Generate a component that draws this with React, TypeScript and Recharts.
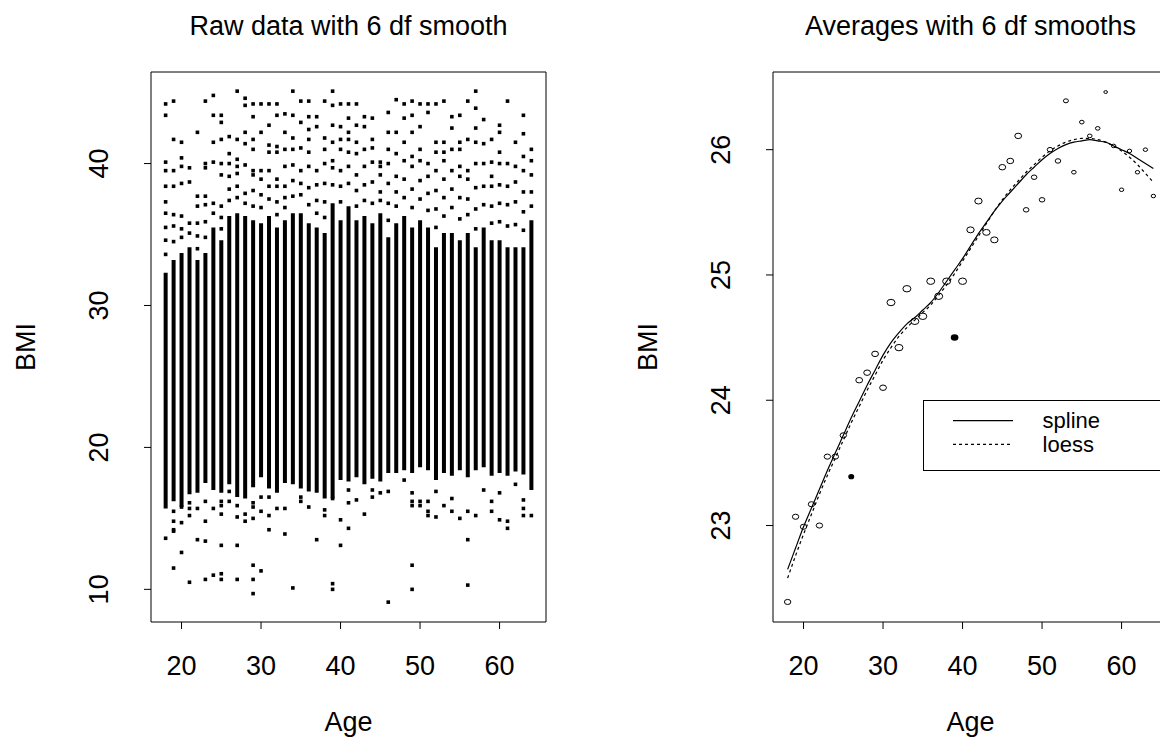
import React from "react";
import {
  ComposedChart,
  Bar,
  Scatter,
  Line,
  XAxis,
  YAxis,
  ReferenceArea,
  Legend,
} from "recharts";

const FONT = "'Liberation Sans', Arial, Helvetica, sans-serif";

const AGES = [
  18, 19, 20, 21, 22, 23, 24, 25, 26, 27, 28, 29, 30, 31, 32, 33, 34, 35, 36, 37, 38, 39, 40, 41,
  42, 43, 44, 45, 46, 47, 48, 49, 50, 51, 52, 53, 54, 55, 56, 57, 58, 59, 60, 61, 62, 63, 64,
];
const AGE_TICKS = [20, 30, 40, 50, 60];
const RAW_TICKS = [10, 20, 30, 40];
const AVG_TICKS = [23, 24, 25, 26];

const AGE_DOMAIN: [number, number] = [16.16, 65.84];
const RAW_DOMAIN: [number, number] = [7.7, 46.45];
const AVG_DOMAIN: [number, number] = [22.23, 26.62];

// raw panel: solid part of each age column, plus the scattered points above / below it
const DENSE_LO = [
  15.7, 16.2, 15.8, 16.7, 16.8, 17.5, 17.0, 16.8, 17.4, 16.5, 16.4, 17.2, 17.9, 17.1, 16.8, 17.5,
  17.4, 17.1, 16.9, 16.8, 16.4, 16.4, 17.7, 17.6, 17.9, 17.4, 17.8, 17.6, 18.2, 18.2, 18.4, 18.2,
  18.6, 18.4, 17.7, 18.2, 18.0, 18.4, 17.9, 18.4, 18.6, 18.0, 18.2, 18.0, 18.3, 18.1, 17.0,
];
const DENSE_HI = [
  32.3, 33.2, 33.7, 34.1, 33.2, 33.7, 35.5, 34.6, 36.3, 36.5, 36.3, 36.0, 35.8, 36.3, 35.5, 36.0,
  36.5, 36.5, 35.8, 35.5, 35.1, 37.2, 36.0, 37.0, 36.0, 36.3, 35.8, 36.5, 34.8, 35.8, 36.3, 35.5,
  36.0, 35.5, 34.1, 35.1, 35.1, 34.6, 35.1, 34.1, 35.5, 34.6, 34.6, 34.1, 34.1, 34.1, 36.0,
];
const UPPER_SPARSE = [
  [44.2, 43.4, 40.1, 39.5, 38.4, 37.3, 36.5, 35.5, 34.6, 33.6],
  [44.4, 41.7, 39.5, 38.4, 36.4, 35.6, 34.5],
  [41.5, 40.4, 39.8, 38.6, 36.3, 35.4, 34.8],
  [39.7, 38.7, 35.8, 35.1],
  [42.2, 37.7, 37.0, 35.8, 34.9, 34.0],
  [44.4, 40.0, 39.7, 37.7, 37.1, 35.9, 34.8],
  [44.8, 43.4, 41.5, 40.1, 37.2, 36.5],
  [43.4, 42.9, 41.7, 40.0, 39.2, 37.0, 36.2, 35.4],
  [41.9, 40.7, 40.0, 39.1, 38.2, 37.4],
  [45.1, 41.7, 40.3, 39.8, 39.3, 38.4, 37.6],
  [44.6, 44.1, 42.2, 41.4, 39.9, 37.9, 37.2],
  [44.2, 43.3, 41.7, 41.0, 39.5, 39.2, 38.1, 37.0],
  [44.2, 42.2, 39.5, 38.9, 37.8, 36.9],
  [44.2, 42.7, 41.3, 40.8, 39.5, 38.4, 37.5],
  [44.2, 43.4, 41.2, 40.8, 38.9, 38.4, 37.3, 36.4],
  [43.5, 42.2, 41.0, 39.8, 38.4, 37.6, 36.9],
  [45.1, 43.4, 41.8, 41.0, 39.9, 38.8, 37.7],
  [44.4, 42.9, 41.1, 39.5, 38.6, 37.8],
  [44.4, 43.3, 42.4, 41.7, 40.8, 39.8, 38.3, 37.1],
  [43.3, 42.6, 39.5, 38.5, 37.4, 36.5],
  [44.4, 41.8, 41.0, 40.0, 38.6, 37.3, 36.2],
  [45.1, 44.1, 42.7, 41.5, 40.2, 39.7, 38.5],
  [44.2, 42.6, 41.7, 41.0, 39.5, 38.4, 37.3],
  [44.2, 43.2, 42.2, 41.7, 40.8, 39.8, 38.6],
  [44.2, 42.7, 41.5, 40.7, 39.2, 38.1, 37.0],
  [43.3, 42.6, 41.0, 39.8, 38.5, 37.4],
  [43.2, 41.7, 41.1, 40.1, 38.7, 37.2],
  [40.1, 39.8, 39.2, 38.0, 37.4],
  [43.6, 42.2, 41.0, 40.0, 38.6, 37.2, 36.0],
  [44.5, 42.2, 40.7, 39.1, 38.0, 37.0],
  [44.2, 43.2, 41.5, 40.2, 38.9, 37.6],
  [44.4, 43.4, 42.2, 40.5, 39.8, 38.2, 36.9],
  [44.2, 42.6, 41.0, 40.2, 38.8, 37.5],
  [44.2, 43.6, 40.0, 39.1, 37.9, 36.7],
  [44.2, 41.5, 40.8, 39.5, 38.1, 36.8, 35.5],
  [44.4, 41.5, 40.8, 40.2, 38.9, 37.6, 36.3],
  [43.3, 42.5, 41.0, 39.5, 38.2, 36.9],
  [43.4, 41.5, 41.0, 39.8, 39.1, 37.6, 36.1],
  [44.4, 41.7, 39.5, 38.9, 37.5, 36.4],
  [45.1, 43.9, 42.5, 41.5, 40.0, 38.3, 36.8, 35.4],
  [43.1, 41.4, 40.0, 38.4, 37.1],
  [41.7, 40.1, 39.1, 38.4, 37.0, 35.8],
  [42.7, 42.2, 40.8, 40.0, 38.5, 37.2, 35.9],
  [44.4, 40.0, 38.4, 37.1, 35.6],
  [41.5, 39.8, 38.7, 37.3, 35.7],
  [43.4, 42.1, 40.5, 39.5, 38.0, 36.6, 35.3],
  [41.0, 40.2, 39.2, 38.0, 37.0],
];
const LOWER_SPARSE = [
  [13.6],
  [15.5, 14.8, 14.2, 14.1, 11.5],
  [15.8, 14.7, 12.6],
  [16.1, 15.7, 15.2, 10.5],
  [15.7, 13.5],
  [16.2, 14.8, 13.4, 10.7],
  [15.7, 11.0],
  [16.2, 15.9, 15.3, 13.1, 11.1, 10.7],
  [16.9, 16.2],
  [15.9, 15.1, 13.1, 10.7],
  [15.3, 14.8],
  [16.1, 15.8, 15.0, 11.7, 10.7, 9.7],
  [16.5, 15.5, 11.3],
  [16.5, 15.2, 14.2],
  [15.7],
  [15.7, 13.9],
  [10.1],
  [16.5, 16.2],
  [15.8],
  [13.5],
  [15.6, 15.2],
  [16.4, 10.4, 10.0],
  [14.9, 13.1],
  [17.0, 16.1, 14.3],
  [16.3],
  [15.3],
  [17.0, 16.5],
  [16.8],
  [16.9, 9.1],
  [],
  [17.7],
  [16.8, 16.2, 15.9, 11.7, 10.0],
  [16.2, 15.9],
  [16.2, 15.5, 15.2],
  [16.9, 15.1],
  [15.9],
  [16.4, 15.5],
  [15.0],
  [15.5, 13.5, 10.3],
  [15.2],
  [17.0],
  [16.2, 15.5],
  [16.8, 14.9],
  [14.8, 14.3],
  [17.4],
  [16.3, 15.7, 15.2],
  [15.2],
];

// averages panel
const AVG_BMI: (number | null)[] = [
  22.39, 23.07, 22.99, 23.17, 23.0, 23.55, 23.55, 23.72, null, 24.16, 24.22, 24.37, 24.1, 24.78,
  24.42, 24.89, 24.63, 24.67, 24.95, 24.83, 24.95, null, 24.95, 25.36, 25.59, 25.34, 25.28, 25.86,
  25.91, 26.11, 25.52, 25.78, 25.6, 26.0, 25.91, 26.39, 25.82, 26.22, 26.11, 26.17, 26.46, 26.03,
  25.68, 25.99, 25.82, 26.0, 25.63,
];
const AVG_SIZE = [
  3.2, 3.2, 3.2, 3.2, 3.2, 3.2, 3.2, 3.2, 3.2, 3.4, 3.4, 3.4, 3.4, 4.0, 4.0, 4.0, 4.0, 4.0, 4.0,
  4.0, 4.0, 4.0, 4.0, 3.7, 3.7, 3.7, 3.7, 3.4, 3.4, 3.4, 2.8, 2.8, 2.8, 2.8, 2.8, 2.5, 2.3, 2.3,
  2.3, 2.3, 1.8, 2.2, 2.2, 2.2, 2.2, 2.2, 2.2,
];
const FILLED_AGES = [26, 39];
const FILLED_BMI = [23.39, 24.5];
const FILLED_SIZE = [3.0, 3.8];

const SPLINE = [
  22.65, 22.82, 22.99, 23.14, 23.29, 23.44, 23.58, 23.72, 23.86, 23.99, 24.12, 24.24, 24.36,
  24.46, 24.54, 24.61, 24.66, 24.72, 24.78, 24.86, 24.95, 25.04, 25.13, 25.23, 25.33, 25.42,
  25.51, 25.59, 25.66, 25.73, 25.8, 25.86, 25.92, 25.97, 26.01, 26.04, 26.06, 26.07, 26.08,
  26.07, 26.06, 26.03, 26.0, 25.97, 25.93, 25.89, 25.85,
];
const LOESS = [
  22.58, 22.76, 22.93, 23.09, 23.25, 23.4, 23.54, 23.68, 23.82, 23.95, 24.08, 24.2, 24.32, 24.42,
  24.51, 24.58, 24.64, 24.7, 24.76, 24.84, 24.92, 25.01, 25.11, 25.21, 25.31, 25.41, 25.51, 25.6,
  25.68, 25.75, 25.82, 25.88, 25.94, 25.99, 26.03, 26.06, 26.08, 26.09, 26.09, 26.08, 26.06,
  26.03, 25.99, 25.94, 25.88, 25.81, 25.74,
];

const rawBands = AGES.map((age, i) => ({ age, band: [DENSE_LO[i], DENSE_HI[i]] }));
const rawSparse = AGES.flatMap((age, i) =>
  [...UPPER_SPARSE[i], ...LOWER_SPARSE[i]].map((bmi) => ({ age, bmi }))
);
const curveData = AGES.map((age, i) => ({ age, spline: SPLINE[i], loess: LOESS[i] }));
const hollowData = AGES.map((age, i) => ({ age, avg: AVG_BMI[i], r: AVG_SIZE[i] })).filter(
  (d) => d.avg !== null
);
const filledData = FILLED_AGES.map((age, i) => ({ age, avg: FILLED_BMI[i], r: FILLED_SIZE[i] }));

const textProps = { fontFamily: FONT, fill: "#000" };

function AgeTick(props: any) {
  const { x, y, payload } = props;
  return (
    <text x={x} y={y + 46} textAnchor="middle" fontSize={27} {...textProps}>
      {payload.value}
    </text>
  );
}

function BmiTick(props: any) {
  const { x, y, payload } = props;
  const px = x - 36;
  return (
    <text x={px} y={y} transform={`rotate(-90 ${px} ${y})`} textAnchor="middle" fontSize={27} {...textProps}>
      {payload.value}
    </text>
  );
}

function ageLabel(props: any) {
  const vb = props.viewBox;
  return (
    <text x={vb.x + vb.width / 2} y={vb.y + 109} textAnchor="middle" fontSize={27} {...textProps}>
      Age
    </text>
  );
}

function bmiLabel(props: any) {
  const vb = props.viewBox;
  const px = vb.x + vb.width - 116;
  const py = vb.y + vb.height / 2;
  return (
    <text x={px} y={py} transform={`rotate(-90 ${px} ${py})`} textAnchor="middle" fontSize={27} {...textProps}>
      BMI
    </text>
  );
}

function Square(props: any) {
  const { cx, cy } = props;
  return <rect x={cx - 1.8} y={cy - 1.8} width={3.6} height={3.6} fill="#000" />;
}

function Ring(props: any) {
  const { cx, cy, payload } = props;
  return <ellipse cx={cx} cy={cy} rx={payload.r} ry={payload.r * 0.8} fill="none" stroke="#000" strokeWidth={1} />;
}

function Dot(props: any) {
  const { cx, cy, payload } = props;
  return <ellipse cx={cx} cy={cy} rx={payload.r} ry={payload.r * 0.85} fill="#000" />;
}

function SmoothLegend() {
  return (
    <svg width={260} height={72}>
      <rect x={0.5} y={0.5} width={300} height={70} fill="#fff" stroke="#000" strokeWidth={1} />
      <line x1={30} x2={90} y1={20.7} y2={20.7} stroke="#000" strokeWidth={1.2} />
      <line x1={30} x2={90} y1={44.3} y2={44.3} stroke="#000" strokeWidth={1.2} strokeDasharray="3 3" />
      <text x={119.6} y={20.5} dominantBaseline="central" fontSize={22} {...textProps}>
        spline
      </text>
      <text x={119.6} y={44} dominantBaseline="central" fontSize={22} {...textProps}>
        loess
      </text>
    </svg>
  );
}

const titleStyle: React.CSSProperties = {
  position: "absolute",
  top: 13,
  width: 395,
  textAlign: "center",
  fontFamily: FONT,
  fontSize: 27,
  lineHeight: "27px",
  color: "#000",
  whiteSpace: "nowrap",
};

export default function App() {
  return (
    <div
      style={{
        position: "fixed",
        left: 0,
        top: 0,
        width: 1160,
        height: 739,
        overflow: "hidden",
        background: "#fff",
      }}
    >
      <div style={{ ...titleStyle, left: 151 }}>Raw data with 6 df smooth</div>
      <div style={{ ...titleStyle, left: 773 }}>Averages with 6 df smooths</div>

      <div style={{ position: "absolute", left: 0, top: 0 }}>
        <ComposedChart
          width={580}
          height={739}
          data={rawBands}
          margin={{ top: 72, right: 34, bottom: 57, left: 0 }}
        >
          <XAxis
            type="number"
            dataKey="age"
            domain={AGE_DOMAIN}
            allowDataOverflow
            ticks={AGE_TICKS}
            height={60}
            axisLine={false}
            tickLine={{ stroke: "#000" }}
            tickSize={7}
            tickMargin={0}
            tick={<AgeTick />}
            label={ageLabel}
          />
          <YAxis
            type="number"
            domain={RAW_DOMAIN}
            allowDataOverflow
            ticks={RAW_TICKS}
            width={151}
            axisLine={false}
            tickLine={{ stroke: "#000" }}
            tickSize={7}
            tickMargin={0}
            tick={<BmiTick />}
            label={bmiLabel}
          />
          <Bar dataKey="band" barSize={4} fill="#000" isAnimationActive={false} />
          <Scatter data={rawSparse} dataKey="bmi" shape={<Square />} isAnimationActive={false} />
          <ReferenceArea
            x1={AGE_DOMAIN[0]}
            x2={AGE_DOMAIN[1]}
            y1={RAW_DOMAIN[0]}
            y2={RAW_DOMAIN[1]}
            fill="none"
            stroke="#000"
            strokeWidth={1}
          />
        </ComposedChart>
      </div>

      <div style={{ position: "absolute", left: 580, top: 0 }}>
        <ComposedChart
          width={620}
          height={739}
          data={curveData}
          margin={{ top: 72, right: 32, bottom: 57, left: 0 }}
        >
          <XAxis
            type="number"
            dataKey="age"
            domain={AGE_DOMAIN}
            allowDataOverflow
            ticks={AGE_TICKS}
            height={60}
            axisLine={false}
            tickLine={{ stroke: "#000" }}
            tickSize={7}
            tickMargin={0}
            tick={<AgeTick />}
            label={ageLabel}
          />
          <YAxis
            type="number"
            domain={AVG_DOMAIN}
            allowDataOverflow
            ticks={AVG_TICKS}
            width={193}
            axisLine={false}
            tickLine={{ stroke: "#000" }}
            tickSize={7}
            tickMargin={0}
            tick={<BmiTick />}
            label={bmiLabel}
          />
          <ReferenceArea
            x1={AGE_DOMAIN[0]}
            x2={AGE_DOMAIN[1]}
            y1={AVG_DOMAIN[0]}
            y2={AVG_DOMAIN[1]}
            fill="none"
            stroke="#000"
            strokeWidth={1}
          />
          <Line
            type="monotone"
            dataKey="spline"
            stroke="#000"
            strokeWidth={1.2}
            dot={false}
            activeDot={false}
            isAnimationActive={false}
          />
          <Line
            type="monotone"
            dataKey="loess"
            stroke="#000"
            strokeWidth={1.2}
            strokeDasharray="3 3"
            dot={false}
            activeDot={false}
            isAnimationActive={false}
          />
          <Scatter data={hollowData} dataKey="avg" shape={<Ring />} isAnimationActive={false} />
          <Scatter data={filledData} dataKey="avg" shape={<Dot />} isAnimationActive={false} />
          <Legend
            layout="vertical"
            align="center"
            verticalAlign="middle"
            wrapperStyle={{ left: 342.7, top: 400, width: 260, height: 72 }}
            content={() => <SmoothLegend />}
          />
        </ComposedChart>
      </div>
    </div>
  );
}
